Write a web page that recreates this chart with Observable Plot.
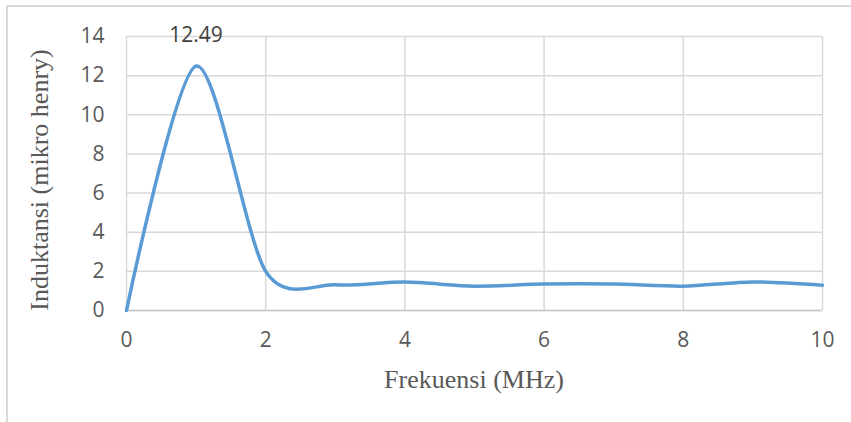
<!DOCTYPE html>
<html>
<head>
<meta charset="utf-8">
<script src="https://cdn.jsdelivr.net/npm/d3@7"></script>
<script src="https://cdn.jsdelivr.net/npm/@observablehq/plot@0.6"></script>
<style>
  html, body { margin: 0; padding: 0; background: #fff; }
  #wrap { position: relative; width: 851px; height: 422px; overflow: hidden; }
  #border { position: absolute; left: 6px; top: 5px; width: 900px; height: 500px; border: 2px solid #d9d9d9; box-sizing: border-box; }
  #chart { position: absolute; left: 0; top: 0; }
</style>
</head>
<body>
<div id="wrap"><div id="border"></div><div id="chart"></div></div>
<script>
const frequency = [0, 1, 2, 3, 4, 5, 6, 7, 8, 9, 10];
const inductance = [0, 12.49, 2.0, 1.31, 1.45, 1.24, 1.35, 1.35, 1.24, 1.46, 1.29];
const xTicks = [0, 2, 4, 6, 8, 10];
const yTicks = [0, 2, 4, 6, 8, 10, 12, 14];
const peakLabel = "12.49";
const xTitle = "Frekuensi (MHz)";
const yTitle = "Induktansi (mikro henry)";

const data = frequency.map((f, i) => ({f, v: inductance[i]}));
const peak = data.reduce((a, b) => (b.v > a.v ? b : a));

const chart = Plot.plot({
  width: 851,
  height: 422,
  marginLeft: 126,
  marginRight: 29,
  marginTop: 36,
  marginBottom: 112,
  style: {background: "transparent", fontFamily: "'Open Sans', sans-serif", fontSize: "21px", color: "#595959"},
  x: {domain: [0, 10], ticks: xTicks, label: null},
  y: {domain: [0, 14], ticks: yTicks, label: null},
  marks: [
    Plot.gridX(xTicks, {stroke: "#d9d9d9", strokeOpacity: 1, strokeWidth: 1.5}),
    Plot.gridY(yTicks, {stroke: "#d9d9d9", strokeOpacity: 1, strokeWidth: 1.5}),
    Plot.ruleY([0], {stroke: "#c8c8c8", strokeWidth: 1.5}),
    Plot.axisX(xTicks, {tickSize: 0, tickPadding: 22, fontSize: 21, fill: "#595959", tickFormat: d => String(d)}),
    Plot.axisY(yTicks, {tickSize: 0, tickPadding: 22, fontSize: 21, fill: "#595959", tickFormat: d => String(d)}),
    Plot.line(data, {x: "f", y: "v", curve: "cardinal", tension: 0.15, stroke: "#5b9bd5", strokeWidth: 3.5}),
    Plot.text([peak], {x: "f", y: "v", text: () => peakLabel, dy: -31, fontSize: 21, fill: "#404040"})
  ]
});

const svg = d3.select(chart);
svg.append("text")
  .attr("x", 474).attr("y", 388)
  .attr("text-anchor", "middle")
  .attr("font-family", "'Liberation Serif', 'Times New Roman', serif")
  .attr("font-size", 26)
  .attr("fill", "#595959")
  .text(xTitle);
svg.append("text")
  .attr("transform", "translate(48,180) rotate(-90)")
  .attr("text-anchor", "middle")
  .attr("font-family", "'Liberation Serif', 'Times New Roman', serif")
  .attr("font-size", 26)
  .attr("fill", "#595959")
  .text(yTitle);

document.getElementById("chart").appendChild(chart);
</script>
</body>
</html>
